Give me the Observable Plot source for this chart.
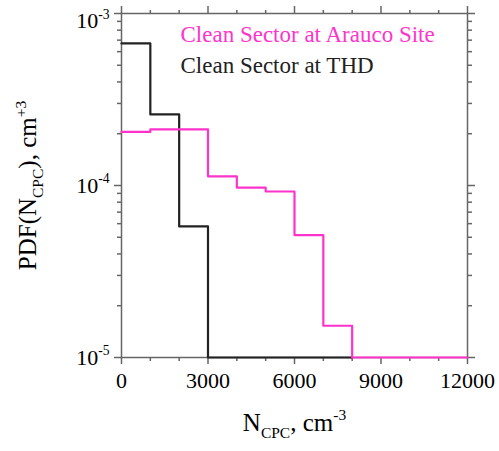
<!DOCTYPE html>
<html>
<head>
<meta charset="utf-8">
<script src="https://cdn.jsdelivr.net/npm/d3@7"></script>
<script src="https://cdn.jsdelivr.net/npm/@observablehq/plot@0.6"></script>
<style>
  html, body { margin: 0; padding: 0; background: #fff; }
  #chart svg { display: block; }
</style>
</head>
<body>
<div id="chart"></div>
<script>
// Bin starts (cm^-3), each bin is 1000 cm^-3 wide
const binStart = [0, 1000, 2000, 3000, 4000, 5000, 6000, 7000, 8000, 9000, 10000, 11000];
const binWidth = 1000;

// PDF values per bin (cm^+3)
const thdPdf    = [6.7e-4, 2.59e-4, 5.78e-5, 1.0e-5, 1.0e-5, 1.0e-5, 1.0e-5, 1.0e-5];
const araucoPdf = [2.05e-4, 2.12e-4, 2.12e-4, 1.13e-4, 9.73e-5, 9.23e-5, 5.14e-5, 1.53e-5, 1.0e-5, 1.0e-5, 1.0e-5, 1.0e-5];

const seriesNames  = ["Clean Sector at Arauco Site", "Clean Sector at THD"];
const seriesColors = ["#ff33cc", "#222222"];

// Axis ticks
const xMajorTicks = [0, 3000, 6000, 9000, 12000];
const xMinorTicks = [1000, 2000, 4000, 5000, 7000, 8000, 10000, 11000];
const yMajorTicks = [1e-5, 1e-4, 1e-3];
const yMinorTicks = [2e-5, 3e-5, 4e-5, 5e-5, 6e-5, 7e-5, 8e-5, 9e-5,
                     2e-4, 3e-4, 4e-4, 5e-4, 6e-4, 7e-4, 8e-4, 9e-4];

// Turn bin values into step points (start of each bin plus closing edge)
function steps(values) {
  const pts = values.map((v, i) => ({x: binStart[i], y: v}));
  pts.push({x: binStart[values.length - 1] + binWidth, y: values[values.length - 1]});
  return pts;
}

const serif = "'Liberation Serif', 'Times New Roman', serif";
const axisColor = "#666";
const supFormat = d => `10^{${Math.round(Math.log10(d))}}`;

const chart = Plot.plot({
  width: 499,
  height: 451,
  marginLeft: 121,
  marginRight: 32,
  marginTop: 13,
  marginBottom: 94,
  style: {fontFamily: serif, fontSize: "22px", background: "#fff", color: "#000"},
  x: {type: "linear", domain: [0, 12000]},
  y: {type: "log", domain: [1e-5, 1e-3]},
  marks: [
    Plot.frame({stroke: axisColor, strokeWidth: 1.5}),
    // bottom
    Plot.axisX({anchor: "bottom", ticks: xMajorTicks, tickSize: 7, tickPadding: 8, stroke: axisColor, strokeWidth: 1.5,
      tickFormat: d => String(d), fontSize: 22, label: "N_{CPC}, cm^{-3}", labelAnchor: "center", labelArrow: "none", labelOffset: 73}),
    Plot.axisX({anchor: "bottom", ticks: xMinorTicks, tickSize: 4, stroke: axisColor, strokeWidth: 1.5, tickFormat: () => "", label: null}),
    // top
    Plot.axisX({anchor: "top", ticks: xMajorTicks, tickSize: 8, stroke: axisColor, strokeWidth: 1.5, tickFormat: () => "", label: null}),
    Plot.axisX({anchor: "top", ticks: xMinorTicks, tickSize: 4, stroke: axisColor, strokeWidth: 1.5, tickFormat: () => "", label: null}),
    // left
    Plot.axisY({anchor: "left", ticks: yMajorTicks, tickSize: 7, tickPadding: 5, stroke: axisColor, strokeWidth: 1.5,
      tickFormat: supFormat, fontSize: 22, label: "PDF(N_{CPC}), cm^{+3}", labelAnchor: "center", labelArrow: "none", labelOffset: 103}),
    Plot.axisY({anchor: "left", ticks: yMinorTicks, tickSize: 4, stroke: axisColor, strokeWidth: 1.5, tickFormat: () => "", label: null}),
    // right
    Plot.axisY({anchor: "right", ticks: yMajorTicks, tickSize: 7, stroke: axisColor, strokeWidth: 1.5, tickFormat: () => "", label: null}),
    Plot.axisY({anchor: "right", ticks: yMinorTicks, tickSize: 4, stroke: axisColor, strokeWidth: 1.5, tickFormat: () => "", label: null}),
    // histograms
    Plot.line(steps(thdPdf), {x: "x", y: "y", curve: "step-after", stroke: seriesColors[1], strokeWidth: 2.2}),
    Plot.line(steps(araucoPdf), {x: "x", y: "y", curve: "step-after", stroke: seriesColors[0], strokeWidth: 2.2}),
    // legend
    Plot.text([seriesNames[0]], {frameAnchor: "top-left", dx: 59, dy: 28, lineAnchor: "bottom", textAnchor: "start",
      fill: seriesColors[0], fontSize: 23, fontFamily: serif}),
    Plot.text([seriesNames[1]], {frameAnchor: "top-left", dx: 59, dy: 59, lineAnchor: "bottom", textAnchor: "start",
      fill: seriesColors[1], fontSize: 23, fontFamily: serif})
  ]
});

// Render "_{...}" as subscripts and "^{...}" as superscripts
function richText(el) {
  const src = el.textContent;
  if (!/[_^]\{/.test(src)) return;
  const parts = [];
  const re = /([_^])\{([^}]*)\}/g;
  let last = 0, m;
  while ((m = re.exec(src))) {
    if (m.index > last) parts.push({t: src.slice(last, m.index), k: ""});
    parts.push({t: m[2], k: m[1]});
    last = re.lastIndex;
  }
  if (last < src.length) parts.push({t: src.slice(last), k: ""});
  const fs = parseFloat(getComputedStyle(el).fontSize) || 22;
  const small = 0.62;
  el.textContent = "";
  let shift = 0;
  for (const p of parts) {
    const ts = document.createElementNS("http://www.w3.org/2000/svg", "tspan");
    const target = p.k === "_" ? 0.28 * fs : p.k === "^" ? -0.42 * fs : 0;
    ts.setAttribute("dy", target - shift);
    shift = target;
    if (p.k) ts.setAttribute("font-size", small * fs);
    ts.textContent = p.t;
    el.appendChild(ts);
  }
}

document.getElementById("chart").appendChild(chart);
// Axis titles are set a little larger than the tick labels
chart.querySelectorAll('g[aria-label="x-axis label"] text, g[aria-label="y-axis label"] text')
  .forEach(t => { t.setAttribute("font-size", 25); t.style.fontSize = "25px"; });
// The top decade label hangs below its tick so it stays inside the page
chart.querySelectorAll('g[aria-label="y-axis tick label"] text')
  .forEach(t => { if (t.textContent === supFormat(1e-3)) t.setAttribute("y", "0.66em"); });
chart.querySelectorAll("text").forEach(richText);
</script>
</body>
</html>
